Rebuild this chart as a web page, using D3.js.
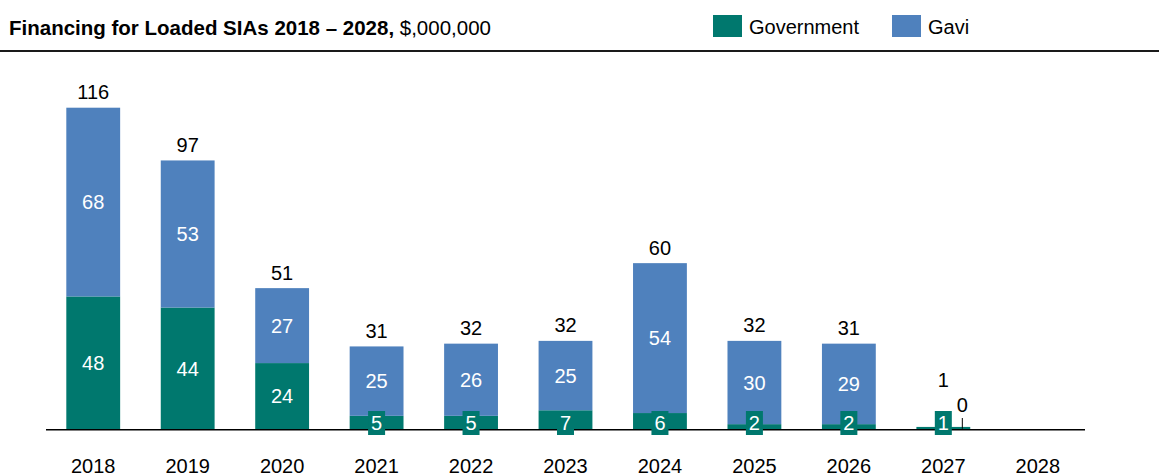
<!DOCTYPE html>
<html>
<head>
<meta charset="utf-8">
<script src="https://cdn.jsdelivr.net/npm/d3@7"></script>
<style>
  html, body { margin: 0; padding: 0; background: #fff; }
  svg { display: block; font-family: "Liberation Sans", Arial, sans-serif; }
</style>
</head>
<body>
<svg id="chart" width="1159" height="475"></svg>
<script>
const years = ["2018","2019","2020","2021","2022","2023","2024","2025","2026","2027","2028"];
const government = [48, 44, 24, 5, 5, 7, 6, 2, 2, 1, 0];
const gavi = [68, 53, 27, 25, 26, 25, 54, 30, 29, 0, 0];
const totals = [116, 97, 51, 31, 32, 32, 60, 32, 31, 1, null];
const seriesNames = ["Government", "Gavi"];
const colors = { Government: "#00786E", Gavi: "#4F81BD" };

const svg = d3.select("#chart");
const W = 1159;
const baseY = 429.7;
const x = d3.scaleBand().domain(years).range([46, 1085]).paddingInner(0.43).paddingOuter(0.215);
const y = d3.scaleLinear().domain([0, 116]).range([baseY, 107.7]);

const rows = years.map((yr, i) => ({ year: yr, Government: government[i], Gavi: gavi[i], total: totals[i] }));
const stack = d3.stack().keys(seriesNames)(rows);

// Title
const title = svg.append("text").attr("x", 9).attr("y", 35).attr("font-size", 20.5).attr("fill", "#000");
title.append("tspan").attr("font-weight", "bold").text("Financing for Loaded SIAs 2018 – 2028,");
title.append("tspan").text(" $,000,000");

// Header rule
svg.append("line").attr("x1", 0).attr("x2", W).attr("y1", 51).attr("y2", 51).attr("stroke", "#1a1a1a").attr("stroke-width", 2);

// Legend
const legendPos = [713, 892];
seriesNames.forEach((s, i) => {
  const g = svg.append("g").attr("transform", `translate(${legendPos[i]},15)`);
  g.append("rect").attr("width", 29).attr("height", 22).attr("fill", colors[s]);
  g.append("text").attr("x", 36).attr("y", 18.5).attr("font-size", 20).attr("fill", "#000").text(s);
});

// Bars
const layers = svg.append("g").selectAll("g").data(stack).join("g").attr("fill", d => colors[d.key]);
layers.selectAll("rect").data(d => d.filter(p => p[1] - p[0] > 0)).join("rect")
  .attr("x", d => x(d.data.year))
  .attr("width", x.bandwidth())
  .attr("y", d => y(d[1]))
  .attr("height", d => y(d[0]) - y(d[1]));

// Axis baseline
svg.append("line").attr("x1", 46).attr("x2", 1085).attr("y1", baseY).attr("y2", baseY).attr("stroke", "#000").attr("stroke-width", 1.6);

// Year labels
svg.append("g").selectAll("text").data(years).join("text")
  .attr("x", d => x(d) + x.bandwidth() / 2).attr("y", 472.5)
  .attr("text-anchor", "middle").attr("font-size", 20).attr("fill", "#000").text(d => d);

// Segment labels
const smallThreshold = 10;
const fs = 20;
stack.forEach(layer => {
  layer.forEach(p => {
    const v = p[1] - p[0];
    const cx = x(p.data.year) + x.bandwidth() / 2;
    if (layer.key === "Government") {
      if (v === 0) return;
      if (v >= smallThreshold) {
        svg.append("text").attr("x", cx).attr("y", (y(p[0]) + y(p[1])) / 2 + 7)
          .attr("text-anchor", "middle").attr("font-size", fs).attr("fill", "#fff").text(v);
      } else {
        svg.append("rect").attr("x", cx - 8.5).attr("y", 411).attr("width", 17).attr("height", 24).attr("fill", colors.Government);
        svg.append("text").attr("x", cx).attr("y", 430)
          .attr("text-anchor", "middle").attr("font-size", fs).attr("fill", "#fff").text(v);
      }
    } else {
      if (p.data.total === null) return;
      if (v > 0) {
        svg.append("text").attr("x", cx).attr("y", (y(p[0]) + y(p[1])) / 2 + 7)
          .attr("text-anchor", "middle").attr("font-size", fs).attr("fill", "#fff").text(v);
      } else {
        // zero value with leader line, offset right
        const lx = cx + 19;
        svg.append("line").attr("x1", lx).attr("x2", lx).attr("y1", 418).attr("y2", baseY - 1).attr("stroke", "#000").attr("stroke-width", 1);
        svg.append("text").attr("x", lx).attr("y", 412)
          .attr("text-anchor", "middle").attr("font-size", fs).attr("fill", "#000").text(v);
      }
    }
  });
});

// Total labels
const last = stack[stack.length - 1];
last.forEach(p => {
  if (p.data.total === null) return;
  const cx = x(p.data.year) + x.bandwidth() / 2;
  const isTiny = p[1] < 5;
  const ty = isTiny ? 387 : y(p[1]) - 8.5;
  svg.append("text").attr("x", cx).attr("y", ty)
    .attr("text-anchor", "middle").attr("font-size", fs).attr("fill", "#000").text(p.data.total);
});
</script>
</body>
</html>
